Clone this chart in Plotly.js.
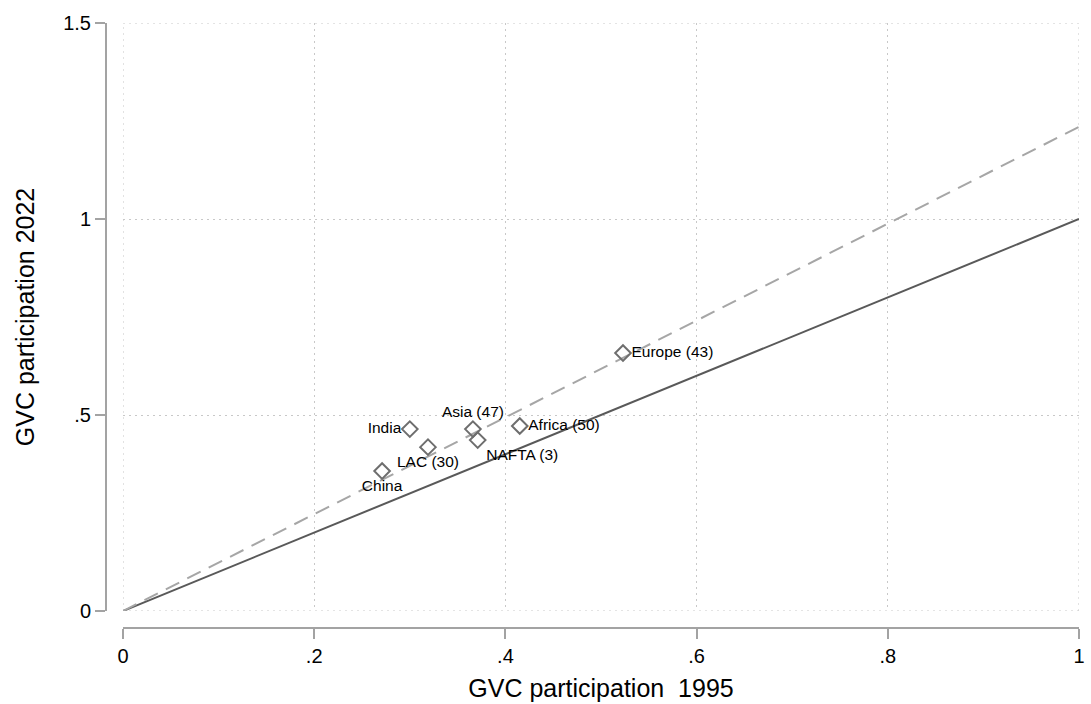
<!DOCTYPE html>
<html>
<head>
<meta charset="utf-8">
<script src="https://cdn.plot.ly/plotly-3.0.1.min.js"></script>
<style>
  html, body { margin: 0; padding: 0; background: #ffffff; }
  #chart { width: 1091px; height: 704px; }
</style>
</head>
<body>
<div id="chart"></div>
<script>
// Regions: GVC participation in 1995 (x) and 2022 (y)
const regions = ['China', 'LAC (30)', 'India', 'Asia (47)', 'NAFTA (3)', 'Africa (50)', 'Europe (43)'];
const gvc1995 = [0.271, 0.319, 0.300, 0.366, 0.371, 0.415, 0.523];
const gvc2022 = [0.357, 0.418, 0.464, 0.464, 0.436, 0.472, 0.658];
const labelPos = ['bottom center', 'bottom center', 'middle left', 'top center', 'bottom right', 'middle right', 'middle right'];

// 45-degree reference line and fitted line through origin
const diagX = [0, 1];
const diagY = [0, 1];
const fitX = [0, 1];
const fitY = [0, 1.235];

const xTickVals = [0, 0.2, 0.4, 0.6, 0.8, 1];
const xTickText = ['0', '.2', '.4', '.6', '.8', '1'];
const yTickVals = [0, 0.5, 1, 1.5];
const yTickText = ['0', '.5', '1', '1.5'];

const FONT = 'Arial, "Liberation Sans", Helvetica, sans-serif';
const GRIDCOLOR = '#c8c8c8';
const GRIDDASH = '2px,4px';

const traces = [
  {
    x: diagX, y: diagY, type: 'scatter', mode: 'lines',
    line: { color: '#595959', width: 2 },
    cliponaxis: false, hoverinfo: 'skip', showlegend: false
  },
  {
    x: fitX, y: fitY, type: 'scatter', mode: 'lines',
    line: { color: '#a6a6a6', width: 2, dash: '15px,9px' },
    cliponaxis: false, hoverinfo: 'skip', showlegend: false
  },
  {
    x: gvc1995, y: gvc2022, text: regions, type: 'scatter', mode: 'markers+text',
    textposition: labelPos,
    textfont: { family: FONT, size: 15.5, color: '#000000' },
    marker: { symbol: 'diamond-open', size: 12, color: '#6e6e6e', line: { width: 2, color: '#6e6e6e' } },
    cliponaxis: false, showlegend: false
  }
];

// Plotly omits grid lines at the range edges; add them for the edge ticks
const xr = [xTickVals[0], xTickVals[xTickVals.length - 1]];
const yr = [yTickVals[0], yTickVals[yTickVals.length - 1]];
const shapes = [];
[xr[0], xr[1]].forEach(v => shapes.push({
  type: 'line', xref: 'x', yref: 'y', x0: v, x1: v, y0: yr[0], y1: yr[1], layer: 'below',
  line: { color: GRIDCOLOR, width: 1, dash: GRIDDASH }
}));
[yr[0], yr[1]].forEach(v => shapes.push({
  type: 'line', xref: 'x', yref: 'y', x0: xr[0], x1: xr[1], y0: v, y1: v, layer: 'below',
  line: { color: GRIDCOLOR, width: 1, dash: GRIDDASH }
}));

const axisCommon = {
  showline: true, linecolor: '#a3a3a3', linewidth: 2,
  ticks: 'outside', ticklen: 10, tickwidth: 2, tickcolor: '#a3a3a3',
  showgrid: true, gridcolor: GRIDCOLOR, gridwidth: 1, griddash: GRIDDASH,
  zeroline: false, tickmode: 'array',
  tickfont: { family: FONT, size: 20, color: '#000000' },
  automargin: false
};

const layout = {
  width: 1091, height: 704,
  paper_bgcolor: '#ffffff', plot_bgcolor: '#ffffff',
  margin: { l: 106, r: 12, t: 23, b: 76 },
  showlegend: false,
  font: { family: FONT, color: '#000000' },
  shapes: shapes,
  xaxis: Object.assign({}, axisCommon, {
    range: [0, 1], domain: [0.0175, 1],
    anchor: 'free', position: 0,
    tickvals: xTickVals, ticktext: xTickText,
    title: { text: 'GVC participation  1995', font: { family: FONT, size: 25, color: '#000000' }, standoff: 12 }
  }),
  yaxis: Object.assign({}, axisCommon, {
    range: [0, 1.5], domain: [0.0281, 1],
    anchor: 'free', position: 0,
    tickvals: yTickVals, ticktext: yTickText,
    title: { text: 'GVC participation 2022', font: { family: FONT, size: 25, color: '#000000' }, standoff: 20 }
  })
};

Plotly.newPlot('chart', traces, layout, { displayModeBar: false, staticPlot: true });
</script>
</body>
</html>
